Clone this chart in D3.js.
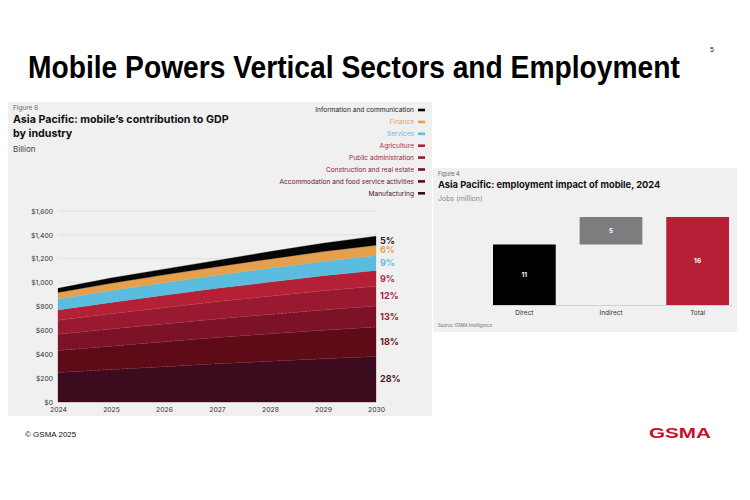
<!DOCTYPE html>
<html>
<head>
<meta charset="utf-8">
<script src="https://cdn.jsdelivr.net/npm/d3@7"></script>
<style>
  body { margin: 0; background: #fff; }
  text { font-family: Inter, "Noto Sans", sans-serif; }
</style>
</head>
<body>
<div id="main"></div>
<script>
// ---- data: figure 6 (GDP contribution, billion USD) ----
var years = [2024, 2025, 2026, 2027, 2028, 2029, 2030];
var sectors = ["Manufacturing", "Accommodation and food service activities", "Construction and real estate",
  "Public administration", "Agriculture", "Services", "Finance", "Information and communication"];
var manufacturing  = [248, 272, 296, 320, 341, 362, 381];
var accommodation  = [183, 196, 208, 220, 230, 240, 248];
var construction   = [137, 144, 150, 156, 163, 169, 175];
var publicAdmin    = [117, 127, 136, 145, 152, 161, 165];
var agriculture    = [86, 95, 104, 112, 119, 126, 133];
var services       = [92, 99, 104, 108, 116, 120, 125];
var finance        = [55, 62, 67, 72, 77, 82, 87];
var infoComm       = [34, 44, 48, 53, 62, 70, 75];
var shareLabels    = ["28%", "18%", "13%", "12%", "9%", "9%", "6%", "5%"];
var yTicks = [0, 200, 400, 600, 800, 1000, 1200, 1400, 1600];

// ---- data: figure 4 (jobs, million) ----
var jobCats = ["Direct", "Indirect", "Total"];
var jobValues = [11, 5, 16];

var sectorColors = ["#3c0b1d", "#5f0b17", "#7b1227", "#991a30", "#b42036", "#5abde0", "#e5a04e", "#050505"];
var labelColors  = ["#4a1526", "#6a1322", "#8a1d31", "#a3243a", "#b8283c", "#5fc0df", "#e7a352", "#222"];

var svg = d3.select("#main").append("svg")
  .attr("width", 750).attr("height", 500);

svg.append("rect").attr("width", 750).attr("height", 500).attr("fill", "#fff");

// slide title (condensed to the reference width)
var title = svg.append("text")
  .style("font-family", "'Liberation Sans', Arial, sans-serif")
  .style("font-weight", "bold").style("font-size", "31px").attr("fill", "#000")
  .text("Mobile Powers Vertical Sectors and Employment");
var tw = title.node().getComputedTextLength();
title.attr("transform", "translate(28,78) scale(" + (652 / tw) + ",1)");

svg.append("text").attr("x", 710).attr("y", 52)
  .style("font-family", "'Liberation Sans', Arial, sans-serif")
  .style("font-size", "7px").attr("fill", "#222").text("5");

// footer
svg.append("text").attr("x", 25).attr("y", 437)
  .style("font-family", "'Liberation Sans', Arial, sans-serif")
  .style("font-size", "8px").attr("fill", "#111").text("© GSMA 2025");
svg.append("text").attr("x", 649).attr("y", 438)
  .attr("textLength", 62).attr("lengthAdjust", "spacingAndGlyphs")
  .style("font-family", "'Liberation Sans', Arial, sans-serif")
  .style("font-weight", "bold").style("font-size", "14px").attr("fill", "#c8102e").text("GSMA");

// ================= left panel =================
svg.append("rect").attr("x", 8).attr("y", 102).attr("width", 424).attr("height", 314).attr("fill", "#f0f0f0");

svg.append("text").attr("x", 13).attr("y", 110).style("font-size", "6.5px").attr("fill", "#666").text("Figure 6");
svg.append("text").attr("x", 13).attr("y", 123).style("font-size", "10.7px").style("font-weight", "700")
  .attr("fill", "#111").text("Asia Pacific: mobile’s contribution to GDP");
svg.append("text").attr("x", 13).attr("y", 137).style("font-size", "10.7px").style("font-weight", "700")
  .attr("fill", "#111").text("by industry");
svg.append("text").attr("x", 13).attr("y", 152).style("font-size", "8px").attr("fill", "#444").text("Billion");

// legend (top to bottom = top layer first)
var legendOrder = d3.range(sectors.length).reverse();
var legend = svg.append("g");
legendOrder.forEach(function(si, i) {
  var ly = 110 + i * 11.9;
  legend.append("text").attr("x", 414).attr("y", ly).attr("dy", "0.35em")
    .attr("text-anchor", "end").style("font-size", "6.6px").attr("fill", labelColors[si]).text(sectors[si]);
  legend.append("rect").attr("x", 418).attr("y", ly - 1.3).attr("width", 7).attr("height", 2.6)
    .attr("fill", sectorColors[si]);
});

var x = d3.scaleLinear().domain([2024, 2030]).range([58, 376]);
var y = d3.scaleLinear().domain([0, 1600]).range([402, 211]);

var g = svg.append("g");

// grid + y labels
g.selectAll(".grid").data(yTicks).enter().append("line")
  .attr("x1", 58).attr("x2", 376)
  .attr("y1", function(d) { return y(d); }).attr("y2", function(d) { return y(d); })
  .attr("stroke", "#dcdcdc").attr("stroke-width", 0.8);

var yAxis = g.append("g").attr("transform", "translate(58,0)")
  .call(d3.axisLeft(y).tickValues(yTicks).tickSize(0).tickPadding(5)
    .tickFormat(function(d) { return "$" + d3.format(",")(d); }));
yAxis.select(".domain").remove();
yAxis.selectAll("text").style("font-family", "Inter, sans-serif").style("font-size", "6.8px").attr("fill", "#333");

var xAxis = g.append("g").attr("transform", "translate(0,402)")
  .call(d3.axisBottom(x).tickValues(years).tickSize(0).tickPadding(5).tickFormat(d3.format("d")));
xAxis.select(".domain").remove();
xAxis.selectAll("text").style("font-family", "Inter, sans-serif").style("font-size", "6.8px").attr("fill", "#333");

// stacked areas
var table = years.map(function(yr, i) {
  return {
    year: yr,
    s0: manufacturing[i], s1: accommodation[i], s2: construction[i], s3: publicAdmin[i],
    s4: agriculture[i], s5: services[i], s6: finance[i], s7: infoComm[i]
  };
});
var keys = ["s0", "s1", "s2", "s3", "s4", "s5", "s6", "s7"];
var stacked = d3.stack().keys(keys)(table);

var area = d3.area()
  .x(function(d) { return x(d.data.year); })
  .y0(function(d) { return y(d[0]); })
  .y1(function(d) { return y(d[1]); });

g.selectAll(".layer").data(stacked).enter().append("path")
  .attr("d", area)
  .attr("fill", function(d, i) { return sectorColors[i]; })
  .attr("stroke", function(d, i) { return sectorColors[i]; })
  .attr("stroke-width", 0.3);

// faint dashed boundaries between dark red layers
var topLine = d3.line()
  .x(function(d) { return x(d.data.year); })
  .y(function(d) { return y(d[1]); });
g.selectAll(".edge").data(stacked.slice(0, 4)).enter().append("path")
  .attr("d", topLine).attr("fill", "none")
  .attr("stroke", "rgba(255,255,255,0.18)").attr("stroke-width", 0.6).attr("stroke-dasharray", "2,2");

// share labels at 2030
var last = years.length - 1;
g.selectAll(".share").data(stacked).enter().append("text")
  .attr("x", 380)
  .attr("y", function(d) { return y((d[last][0] + d[last][1]) / 2); })
  .attr("dy", "0.35em")
  .style("font-size", "9px").style("font-weight", "700")
  .attr("fill", function(d, i) { return labelColors[i]; })
  .text(function(d, i) { return shareLabels[i]; });

// ================= right panel =================
svg.append("rect").attr("x", 433).attr("y", 168).attr("width", 304).attr("height", 164).attr("fill", "#f0f0f0");
svg.append("text").attr("x", 438).attr("y", 176).style("font-size", "5.5px").attr("fill", "#666").text("Figure 4");
svg.append("text").attr("x", 438).attr("y", 188).style("font-size", "9.3px").style("font-weight", "700")
  .attr("fill", "#111").text("Asia Pacific: employment impact of mobile, 2024");
svg.append("text").attr("x", 438).attr("y", 201).style("font-size", "7px").attr("fill", "#888").text("Jobs (million)");
svg.append("text").attr("x", 438).attr("y", 327).style("font-size", "4.3px").attr("fill", "#666")
  .text("Source: GSMA Intelligence");

var bx = d3.scaleBand().domain(jobCats).range([493, 729]).paddingInner(0.276).paddingOuter(0);
var by = d3.scaleLinear().domain([0, 16]).range([305, 217]);

// waterfall starts
var starts = [0, jobValues[0], 0];
var barColors = ["#000000", "#7d7d7f", "#b71f36"];

svg.append("line").attr("x1", 491).attr("x2", 732).attr("y1", 305.5).attr("y2", 305.5)
  .attr("stroke", "#c8c8c8").attr("stroke-width", 0.8);

svg.selectAll(".jbar").data(jobValues).enter().append("rect")
  .attr("x", function(d, i) { return bx(jobCats[i]); })
  .attr("width", bx.bandwidth())
  .attr("y", function(d, i) { return by(starts[i] + d); })
  .attr("height", function(d, i) { return by(starts[i]) - by(starts[i] + d); })
  .attr("fill", function(d, i) { return barColors[i]; });

svg.selectAll(".jval").data(jobValues).enter().append("text")
  .attr("x", function(d, i) { return bx(jobCats[i]) + bx.bandwidth() / 2; })
  .attr("y", function(d, i) { return by(starts[i] + d / 2); })
  .attr("dy", "0.35em").attr("text-anchor", "middle")
  .style("font-size", "6.5px").style("font-weight", "700").attr("fill", "#fff")
  .text(function(d) { return d; });

var bAxis = svg.append("g").attr("transform", "translate(0,305)")
  .call(d3.axisBottom(bx).tickSize(0).tickPadding(5));
bAxis.select(".domain").remove();
bAxis.selectAll("text").style("font-family", "Inter, sans-serif").style("font-size", "6.5px").attr("fill", "#333");
</script>
</body>
</html>
